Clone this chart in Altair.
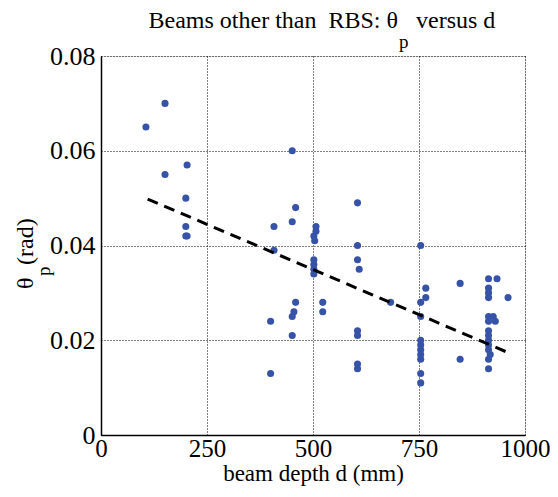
import altair as alt
import pandas as pd

# beam depth d (mm) and plastic rotation theta_p (rad)
depth = [106, 151, 151, 203, 200, 200, 200, 203,
         451, 605, 459, 451, 408, 507, 507, 502, 504, 605, 408, 502, 502, 502, 502,
         605, 609, 459, 523, 455, 523, 451, 400, 451, 605, 605, 605, 605, 400,
         754, 914, 934, 847, 766, 914, 914, 766, 914, 960, 754, 683, 914, 925, 930,
         914, 754, 914, 914, 914, 914, 914, 918, 914, 914, 847, 754, 754, 754, 754,
         754, 754, 754]
theta = [0.065, 0.070, 0.055, 0.057, 0.050, 0.044, 0.042, 0.042,
         0.060, 0.049, 0.048, 0.045, 0.044, 0.044, 0.043, 0.042, 0.041, 0.040, 0.039,
         0.037, 0.036, 0.035, 0.034, 0.037, 0.035, 0.028, 0.028, 0.026, 0.026, 0.025,
         0.024, 0.021, 0.022, 0.021, 0.015, 0.014, 0.013,
         0.040, 0.033, 0.033, 0.032, 0.031, 0.031, 0.030, 0.029, 0.029, 0.029, 0.028,
         0.028, 0.025, 0.025, 0.024, 0.024, 0.025, 0.022, 0.021, 0.020, 0.019, 0.018,
         0.017, 0.016, 0.014, 0.016, 0.020, 0.019, 0.018, 0.017, 0.016, 0.013, 0.011]

fit_d = [110, 960]
fit_theta = [0.0498, 0.0174]

x_ticks = [0, 250, 500, 750, 1000]
y_ticks = [0, 0.02, 0.04, 0.06, 0.08]

pts = pd.DataFrame({"d": depth, "theta": theta})
fit = pd.DataFrame({"d": fit_d, "theta": fit_theta})

FONT = "Liberation Serif"

xs = alt.Scale(domain=[0, 1000], nice=False, zero=False)
ys = alt.Scale(domain=[0, 0.08], nice=False, zero=False)

xaxis = alt.Axis(values=x_ticks, title="beam depth d (mm)", grid=True, format="d",
                 gridColor="black", gridDash=[1, 2], gridWidth=1, gridOpacity=1,
                 labelFont=FONT, labelFontSize=25, labelColor="black",
                 titleFont=FONT, titleFontSize=23, titleFontWeight="normal",
                 titleColor="black", titlePadding=1, labelPadding=1,
                 tickSize=0, domainColor="black", domainWidth=1.5,
                 labelFlush=False)
yaxis = alt.Axis(values=y_ticks, title=None, grid=True,
                 gridColor="black", gridDash=[1, 2], gridWidth=1, gridOpacity=1,
                 labelFont=FONT, labelFontSize=26, labelColor="black",
                 labelExpr="datum.value == 0 ? '0' : format(datum.value, '.2f')",
                 tickSize=0, labelPadding=6, domainColor="black", domainWidth=1.5,
                 labelFlush=False)

points = alt.Chart(pts).mark_circle(size=50, color="#3653a8", opacity=1).encode(
    x=alt.X("d:Q", scale=xs, axis=xaxis),
    y=alt.Y("theta:Q", scale=ys, axis=yaxis),
)

line = alt.Chart(fit).mark_line(color="black", strokeWidth=3, strokeDash=[11, 7]).encode(
    x=alt.X("d:Q", scale=xs),
    y=alt.Y("theta:Q", scale=ys),
)

def txt(s, x, y, size, align="left", angle=0):
    return alt.Chart(pd.DataFrame({"t": [s]})).mark_text(
        font=FONT, fontSize=size, align=align, baseline="alphabetic",
        angle=angle, color="black").encode(
        text="t:N", x=alt.value(x), y=alt.value(y))

title1 = txt("Beams other than\u00a0\u00a0RBS: θ", 297, -28, 24, align="right")
title2 = txt("p", 298, -8, 19)
title3 = txt("versus d", 315, -28, 24)
ytitle1 = txt("θ", -68, 233, 24, angle=270)
ytitle2 = txt("p", -51, 220, 19, angle=270)
ytitle3 = txt("(rad)", -68, 209, 24, angle=270)

chart = alt.layer(points, line, title1, title2, title3, ytitle1, ytitle2, ytitle3).properties(
    width=424, height=379,
    autosize=alt.AutoSizeParams(type="none"),
    padding={"left": 93, "top": 48, "right": 25, "bottom": 54},
).configure_view(stroke="black", strokeWidth=1.5).configure(background="white")

chart.save("out.html", embed_options={"renderer": "svg", "actions": False})
